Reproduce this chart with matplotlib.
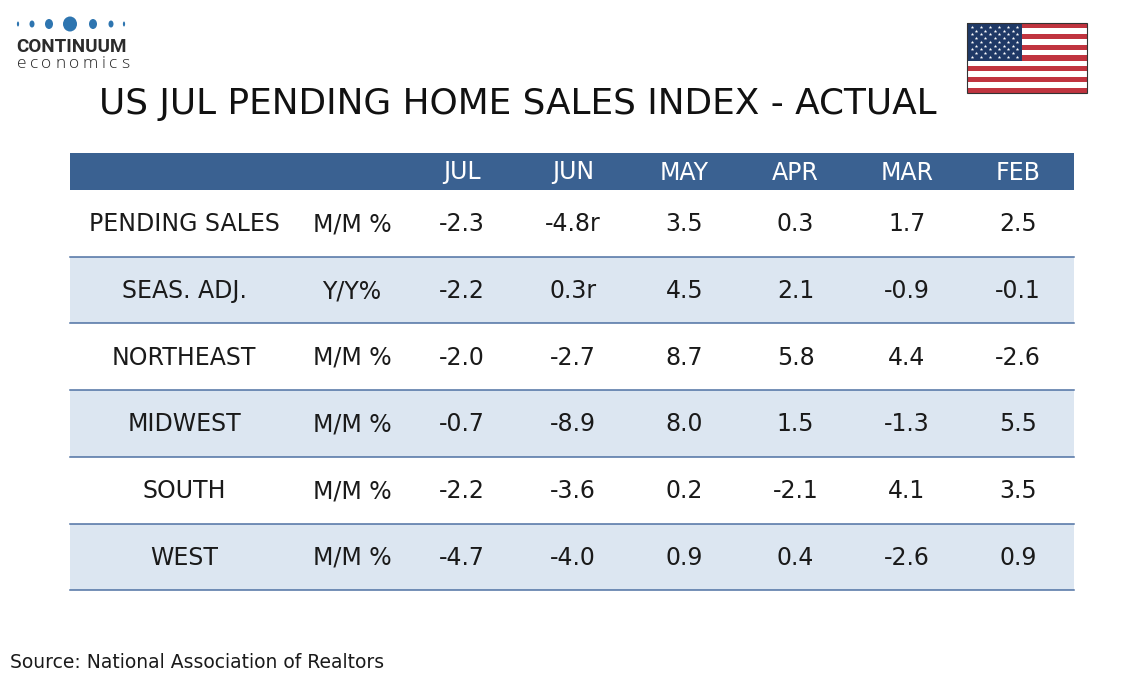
"""US pending home sales summary table, drawn as a matplotlib figure."""

import matplotlib.pyplot as plt
from matplotlib.patches import Ellipse, Rectangle

TITLE = "US JUL PENDING HOME SALES INDEX - ACTUAL"
SOURCE = "Source: National Association of Realtors"

MONTHS = ["JUL", "JUN", "MAY", "APR", "MAR", "FEB"]
ROW_LABELS = ["PENDING SALES", "SEAS. ADJ.", "NORTHEAST", "MIDWEST", "SOUTH", "WEST"]
ROW_UNITS = ["M/M %", "Y/Y%", "M/M %", "M/M %", "M/M %", "M/M %"]
PENDING_SALES = ["-2.3", "-4.8r", "3.5", "0.3", "1.7", "2.5"]
SEAS_ADJ_YY = ["-2.2", "0.3r", "4.5", "2.1", "-0.9", "-0.1"]
NORTHEAST = ["-2.0", "-2.7", "8.7", "5.8", "4.4", "-2.6"]
MIDWEST = ["-0.7", "-8.9", "8.0", "1.5", "-1.3", "5.5"]
SOUTH = ["-2.2", "-3.6", "0.2", "-2.1", "4.1", "3.5"]
WEST = ["-4.7", "-4.0", "0.9", "0.4", "-2.6", "0.9"]
VALUES = [PENDING_SALES, SEAS_ADJ_YY, NORTHEAST, MIDWEST, SOUTH, WEST]

HEADER_BLUE = "#3A6191"
SHADE = "#DCE6F1"
RULE = "#4F71A3"
TEXT = "#1a1a1a"
LOGO_BLUE = "#2E75B0"

# layout in pixels (figure is 1134 x 680)
TABLE_LEFT, TABLE_RIGHT = 70, 1074
HEADER_TOP, HEADER_BOTTOM = 153, 190
ROW_H = 66.7
LABEL_X, UNIT_X = 184, 352
COL_X0, COL_DX = 462, 111.2
FONT = "DejaVu Sans"
BODY_SIZE = 17


def draw_logo(fig, ax):
    # (x centre, width, height) of the dot row, in pixels
    dots = [(18, 2.2, 5), (32, 5, 7), (49, 8, 10), (70, 14, 15), (93, 8, 10), (111, 5, 7), (124, 2.2, 5)]
    for x, w, h in dots:
        ax.add_patch(Ellipse((x, 24), w, h, color=LOGO_BLUE, lw=0))
    ax.text(16, 47, "CONTINUUM", fontsize=13.6, fontweight="bold", color="#2b2b2b",
            va="center", ha="left", family="Roboto")
    # lower word is letter-spaced: lay the glyphs out one by one
    renderer = fig.canvas.get_renderer()
    x = 16.5
    tracking = 3.6
    for ch in "economics":
        t = ax.text(x, 64.5, ch, fontsize=12.5, color="#2b2b2b",
                    va="center", ha="left", family="Open Sans", fontweight="light")
        width = t.get_window_extent(renderer).width
        x += width + tracking


def draw_flag(ax):
    x0, y0, w, h = 967, 23, 120, 70
    sh = h / 13
    for i in range(13):
        c = "#C0343F" if i % 2 == 0 else "white"
        ax.add_patch(Rectangle((x0, y0 + i * sh), w, sh, color=c, lw=0))
    cw, ch = 55, 7 * sh
    ax.add_patch(Rectangle((x0, y0), cw, ch, color="#1F3966", lw=0))
    xs, ys = [], []
    for r in range(9):
        n = 6 if r % 2 == 0 else 5
        off = 0 if r % 2 == 0 else cw / 12
        for c in range(n):
            xs.append(x0 + cw / 12 + off + c * cw / 6)
            ys.append(y0 + ch / 10 * (r + 1))
    ax.scatter(xs, ys, marker="*", s=7, color="white", lw=0, zorder=3)
    ax.add_patch(Rectangle((x0, y0), w, h, fill=False, ec="#333333", lw=0.8, zorder=4))


def main():
    fig = plt.figure(figsize=(11.34, 6.8), dpi=100)
    ax = fig.add_axes([0, 0, 1, 1])
    ax.set_xlim(0, 1134)
    ax.set_ylim(680, 0)
    ax.axis("off")

    draw_logo(fig, ax)
    draw_flag(ax)

    ax.text(518, 104, TITLE, fontsize=25.8, color="#111111", ha="center", va="center", family=FONT)

    # header bar
    ax.add_patch(Rectangle((TABLE_LEFT, HEADER_TOP), TABLE_RIGHT - TABLE_LEFT,
                           HEADER_BOTTOM - HEADER_TOP, color=HEADER_BLUE, lw=0))
    hy = (HEADER_TOP + HEADER_BOTTOM) / 2 + 1
    for j, m in enumerate(MONTHS):
        ax.text(COL_X0 + j * COL_DX, hy, m, fontsize=BODY_SIZE, color="white",
                ha="center", va="center", family=FONT)

    for i, (label, unit, vals) in enumerate(zip(ROW_LABELS, ROW_UNITS, VALUES)):
        top = HEADER_BOTTOM + i * ROW_H
        if i % 2 == 1:
            ax.add_patch(Rectangle((TABLE_LEFT, top), TABLE_RIGHT - TABLE_LEFT, ROW_H,
                                   color=SHADE, lw=0))
        ax.plot([TABLE_LEFT, TABLE_RIGHT], [top + ROW_H, top + ROW_H], color=RULE, lw=1.1)
        cy = top + ROW_H / 2 + 1
        ax.text(LABEL_X, cy, label, fontsize=BODY_SIZE, color=TEXT, ha="center", va="center", family=FONT)
        ax.text(UNIT_X, cy, unit, fontsize=BODY_SIZE, color=TEXT, ha="center", va="center", family=FONT)
        for j, v in enumerate(vals):
            ax.text(COL_X0 + j * COL_DX, cy, v, fontsize=BODY_SIZE, color=TEXT,
                    ha="center", va="center", family=FONT)

    ax.text(10, 663, SOURCE, fontsize=13.5, color=TEXT, ha="left", va="center", family=FONT)

    fig.savefig("out.png", dpi=100)


if __name__ == "__main__":
    main()
